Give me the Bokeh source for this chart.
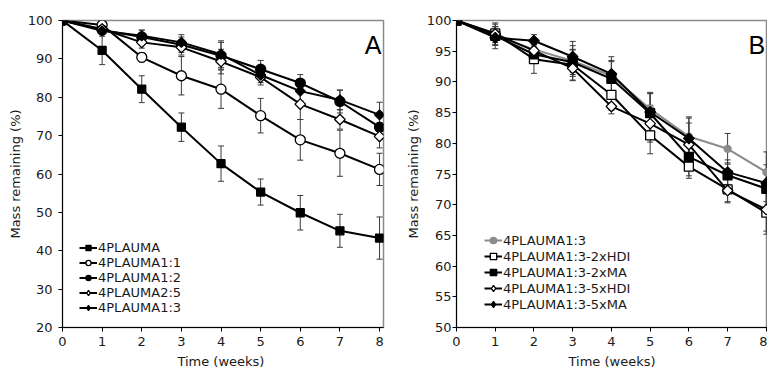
import math
from bokeh.plotting import figure
from bokeh.models import (ColumnDataSource, Whisker, TeeHead, Legend, LegendItem,
                          Label, FixedTicker, Range1d)
from bokeh.layouts import row
from bokeh.embed import file_html
from bokeh.resources import INLINE

weeks = [0, 1, 2, 3, 4, 5, 6, 7, 8]

# ---- Panel A data ----
a_names = ["4PLAUMA", "4PLAUMA1:1", "4PLAUMA1:2", "4PLAUMA2:5", "4PLAUMA1:3"]
a_4plauma = [100, 92.2, 82.1, 72.2, 62.7, 55.3, 49.9, 45.2, 43.3]
a_4plauma_err = [0, 3.7, 3.5, 3.7, 4.6, 3.4, 4.5, 4.3, 5.5]
a_11 = [100, 98.8, 90.4, 85.6, 82.1, 75.2, 68.9, 65.4, 61.2]
a_11_err = [0, 1.0, 1.2, 5.0, 5.0, 4.5, 5.3, 6.0, 4.2]
a_12 = [100, 97.5, 95.7, 93.7, 90.8, 87.3, 83.7, 78.9, 72.2]
a_12_err = [0, 1.0, 1.8, 2.0, 3.5, 2.3, 2.2, 3.0, 3.0]
a_25 = [100, 97.8, 94.3, 93.0, 89.3, 85.2, 78.2, 74.2, 69.8]
a_25_err = [0, 1.0, 1.5, 2.0, 3.2, 2.0, 4.0, 2.5, 3.0]
a_13 = [100, 97.3, 96.0, 94.3, 91.2, 85.8, 81.6, 79.3, 75.4]
a_13_err = [0, 1.0, 1.5, 2.0, 3.5, 2.0, 2.5, 2.5, 3.3]

# ---- Panel B data ----
b_names = ["4PLAUMA1:3", "4PLAUMA1:3-2xHDI", "4PLAUMA1:3-2xMA",
           "4PLAUMA1:3-5xHDI", "4PLAUMA1:3-5xMA"]
b_13 = [100, 97.5, 95.3, 93.4, 91.0, 85.6, 81.1, 79.1, 75.3]
b_13_err = [0, 1.5, 1.0, 2.5, 2.5, 2.5, 3.0, 2.5, 3.3]
b_2hdi = [100, 97.9, 93.7, 92.8, 87.9, 81.3, 76.2, 72.5, 68.7]
b_2hdi_err = [0, 1.5, 2.3, 2.5, 2.5, 3.0, 1.5, 2.0, 3.5]
b_2ma = [100, 97.5, 94.5, 93.2, 90.5, 84.9, 77.8, 74.8, 72.6]
b_2ma_err = [0, 1.5, 1.0, 2.0, 2.8, 3.4, 3.5, 2.0, 3.0]
b_5hdi = [100, 97.8, 95.1, 92.2, 86.0, 83.2, 79.8, 72.3, 69.2]
b_5hdi_err = [0, 1.8, 1.0, 2.0, 1.2, 3.0, 3.5, 2.0, 3.5]
b_5ma = [100, 97.2, 96.7, 94.1, 91.3, 85.1, 80.8, 75.3, 73.5]
b_5ma_err = [0, 1.8, 1.0, 2.5, 2.8, 3.0, 3.5, 2.0, 3.0]

a_ticks = [20, 30, 40, 50, 60, 70, 80, 90, 100]
b_ticks = [50, 55, 60, 65, 70, 75, 80, 85, 90, 95, 100]

FONT = "DejaVu Sans"


def style(p, yticks):
    p.grid.visible = False
    p.outline_line_color = "#8a8a8a"
    p.outline_line_width = 1.5
    p.background_fill_color = "white"
    p.border_fill_color = "white"
    for ax in (p.xaxis[0], p.yaxis[0]):
        ax.axis_line_color = "black"
        ax.axis_line_width = 1
        ax.major_tick_line_color = "black"
        ax.major_tick_out = 4
        ax.major_tick_in = 0
        ax.minor_tick_line_color = None
        ax.major_label_text_font = FONT
        ax.major_label_text_font_size = "13px"
        ax.major_label_text_color = "#1a1a1a"
        ax.axis_label_text_font = FONT
        ax.axis_label_text_font_size = "13px"
        ax.axis_label_text_font_style = "normal"
        ax.axis_label_text_color = "#1a1a1a"
    p.xaxis[0].ticker = FixedTicker(ticks=weeks)
    p.yaxis[0].ticker = FixedTicker(ticks=yticks)


def add_series(p, y, err, marker, fill, color, size, lw=2):
    xs = [w for w, e in zip(weeks, err) if e > 0]
    up = [v + e for v, e in zip(y, err) if e > 0]
    lo = [v - e for v, e in zip(y, err) if e > 0]
    wsrc = ColumnDataSource(dict(x=xs, upper=up, lower=lo))
    wh = Whisker(base="x", upper="upper", lower="lower", source=wsrc,
                 line_color="#3a3a3a", line_width=1,
                 upper_head=TeeHead(size=6, line_color="#3a3a3a", line_width=1),
                 lower_head=TeeHead(size=6, line_color="#3a3a3a", line_width=1))
    p.add_layout(wh)
    src = ColumnDataSource(dict(x=weeks, y=y))
    ln = p.line("x", "y", source=src, line_color=color, line_width=lw)
    if marker == "diamond":
        p.scatter("x", "y", source=src, marker="square", size=size,
                  angle=math.pi / 4, fill_color=fill, line_color=color,
                  line_width=1.3)
        # legend-only glyph placed outside the visible range so the legend
        # shows an unrotated diamond symbol
        leg = p.scatter(x=[-100], y=[-100], marker="diamond", size=size * 1.45,
                        fill_color=fill, line_color=color, line_width=1.3)
        return [ln, leg]
    sc = p.scatter("x", "y", source=src, marker=marker, size=size,
                   fill_color=fill, line_color=color, line_width=1.3)
    return [ln, sc]


# ---------------- Panel A ----------------
pA = figure(width=390, height=373, output_backend="svg", toolbar_location=None,
            x_range=Range1d(0, 8.1), y_range=Range1d(20, 100),
            min_border_left=62, min_border_right=7, min_border_top=20,
            min_border_bottom=46)
style(pA, a_ticks)
pA.xaxis[0].axis_label = "Time  (weeks)"
pA.yaxis[0].axis_label = "Mass remaining (%)"
pA.xaxis[0].major_label_standoff = 5
pA.yaxis[0].major_label_standoff = 6
pA.xaxis[0].axis_label_standoff = 5
pA.yaxis[0].axis_label_standoff = 2

a_series = [
    (a_4plauma, a_4plauma_err, "square", "black", 8),
    (a_11, a_11_err, "circle", "white", 10),
    (a_12, a_12_err, "circle", "black", 10),
    (a_25, a_25_err, "diamond", "white", 7.5),
    (a_13, a_13_err, "diamond", "black", 7),
]
a_items = []
for name, (y, e, m, f, s) in zip(a_names, a_series):
    rs = add_series(pA, y, e, m, f, "black", s)
    a_items.append(LegendItem(label=name, renderers=rs))

legA = Legend(items=a_items, location=(17, 12), glyph_height=13, label_height=13,
              glyph_width=18, spacing=0, padding=0, margin=0, label_standoff=1,
              label_text_font=FONT, label_text_font_size="13px",
              label_text_color="#1a1a1a",
              background_fill_alpha=0, border_line_alpha=0)
pA.add_layout(legA)
pA.add_layout(Label(x=8.05, y=93.7, text="A", text_align="right",
                    text_baseline="alphabetic", text_font="Liberation Sans",
                    text_font_size="25px", text_color="black"))

# ---------------- Panel B ----------------
pB = figure(width=377, height=373, output_backend="svg", toolbar_location=None,
            x_range=Range1d(0, 8.03), y_range=Range1d(50, 100),
            min_border_left=66, min_border_right=0, min_border_top=20,
            min_border_bottom=45)
style(pB, b_ticks)
pB.xaxis[0].axis_label = "Time (weeks)"
pB.yaxis[0].axis_label = "Mass remaining (%)"
pB.xaxis[0].major_label_standoff = 5
pB.yaxis[0].major_label_standoff = 1
pB.xaxis[0].axis_label_standoff = 5
pB.yaxis[0].axis_label_standoff = 3

b_series = [
    (b_13, b_13_err, "circle", "#8c8c8c", "#8c8c8c", 7),
    (b_2hdi, b_2hdi_err, "square", "white", "black", 9),
    (b_2ma, b_2ma_err, "square", "black", "black", 9),
    (b_5hdi, b_5hdi_err, "diamond", "white", "black", 7.5),
    (b_5ma, b_5ma_err, "diamond", "black", "black", 7.5),
]
b_items = []
for name, (y, e, m, f, c, s) in zip(b_names, b_series):
    rs = add_series(pB, y, e, m, f, c, s)
    b_items.append(LegendItem(label=name, renderers=rs))

legB = Legend(items=b_items, location=(28, 15), glyph_height=16, label_height=16,
              glyph_width=18, spacing=0, padding=0, margin=0, label_standoff=1,
              label_text_font=FONT, label_text_font_size="13px",
              label_text_color="#1a1a1a",
              background_fill_alpha=0, border_line_alpha=0)
pB.add_layout(legB)
pB.add_layout(Label(x=7.54, y=96.0, text="B", text_align="left",
                    text_baseline="alphabetic", text_font="Liberation Sans",
                    text_font_size="25px", text_color="black"))

layout = row(pA, pB)
open("out.html", "w").write(file_html(layout, INLINE))
